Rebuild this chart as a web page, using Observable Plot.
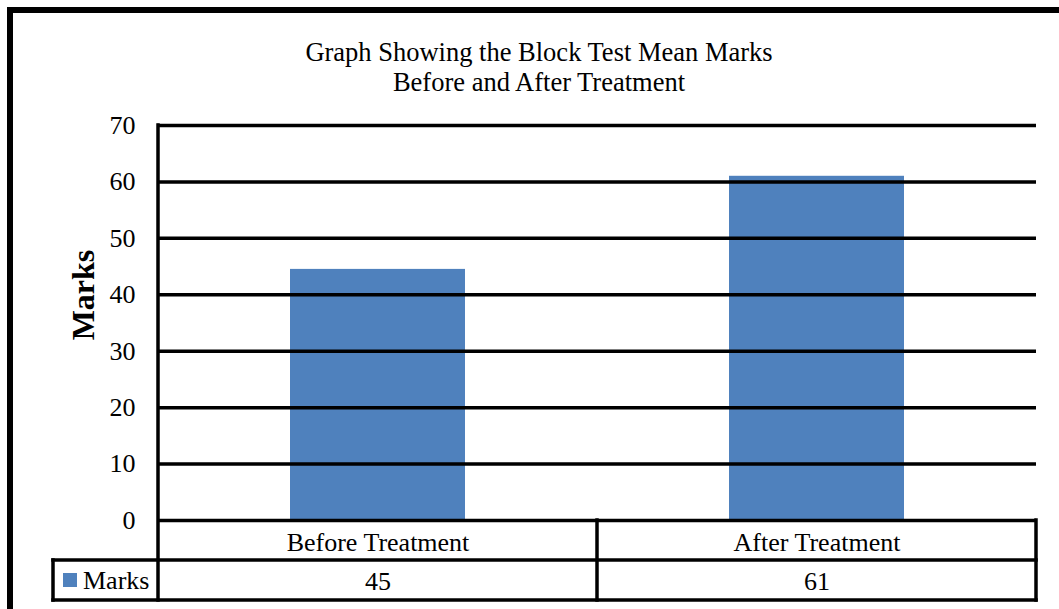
<!DOCTYPE html>
<html>
<head>
<meta charset="utf-8">
<script src="https://cdn.jsdelivr.net/npm/d3@7"></script>
<script src="https://cdn.jsdelivr.net/npm/@observablehq/plot@0.6"></script>
<style>
  html, body { margin: 0; padding: 0; background: #fff; overflow: hidden; width: 1059px; height: 609px; }
  #wrap { position: relative; width: 1059px; height: 609px; font-family: "Liberation Serif", "Times New Roman", serif; }
  #border { position: absolute; left: 7px; top: 7px; width: 1200px; height: 800px; border: 6px solid #000; box-sizing: border-box; }
  #title { position: absolute; left: 239px; width: 600px; top: 37px; text-align: center; font-size: 26.5px; line-height: 30px; color: #000; }
  #chart { position: absolute; left: 0; top: 0; }
</style>
</head>
<body>
<div id="wrap">
  <div id="border"></div>
  <div id="title">Graph Showing the Block Test Mean Marks<br>Before and After Treatment</div>
  <div id="chart"></div>
</div>
<script>
const categories = ["Before Treatment", "After Treatment"];
const marks = [44.5, 61];
const tableLabels = ["45", "61"];
const yTicks = [0, 10, 20, 30, 40, 50, 60, 70];
const seriesName = "Marks";
const yLabel = "Marks";
const barColor = "#4F81BD";

const data = categories.map((c, i) => ({cat: c, value: marks[i], label: tableLabels[i]}));

const plot = Plot.plot({
  width: 1059,
  height: 609,
  marginLeft: 157,
  marginRight: 23,
  marginTop: 125,
  marginBottom: 89,
  style: {fontFamily: "Liberation Serif, Times New Roman, serif", background: "transparent", color: "#000"},
  x: {type: "band", domain: categories, padding: 0, axis: null},
  y: {domain: [0, 70], ticks: yTicks},
  marks: [
    Plot.barY(data, {x: "cat", y: "value", fill: barColor, insetLeft: 132, insetRight: 132}),
    Plot.ruleY(yTicks, {stroke: "#000", strokeWidth: 3.5}),
    Plot.axisY({ticks: yTicks, tickSize: 0, tickPadding: 22, fontSize: 26, label: null}),
    Plot.text([yLabel], {frameAnchor: "left", textAnchor: "middle", lineAnchor: "middle", text: d => d, rotate: -90, dx: -74, dy: -28, fontSize: 32, fontWeight: "bold", fill: "#000"}),
    Plot.text(data, {x: "cat", y: () => 0, text: "cat", dy: 22, fontSize: 26, fill: "#000"}),
    Plot.text(data, {x: "cat", y: () => 0, text: "label", dy: 61, fontSize: 26, fill: "#000"})
  ]
});

document.getElementById("chart").appendChild(plot);

// Data table grid drawn from the plot's own scales
const xs = plot.scale("x");
const ys = plot.scale("y");
const bw = xs.bandwidth;
const left = xs.apply(categories[0]);
const right = xs.apply(categories[categories.length - 1]) + bw;
const y0 = ys.apply(0);
const yTop = ys.apply(70);
const rowH = 40;
const legendLeft = 53;
const svg = d3.select(plot);
const g = svg.append("g").attr("stroke", "#000").attr("stroke-width", 3.5).attr("stroke-linecap", "square");
g.append("line").attr("x1", left).attr("x2", left).attr("y1", yTop).attr("y2", y0 + 2 * rowH);
categories.forEach((c) => {
  const xr = xs.apply(c) + bw;
  g.append("line").attr("x1", xr).attr("x2", xr).attr("y1", y0).attr("y2", y0 + 2 * rowH);
});
g.append("line").attr("x1", legendLeft).attr("x2", right).attr("y1", y0 + rowH).attr("y2", y0 + rowH);
g.append("line").attr("x1", legendLeft).attr("x2", right).attr("y1", y0 + 2 * rowH).attr("y2", y0 + 2 * rowH);
g.append("line").attr("x1", legendLeft).attr("x2", legendLeft).attr("y1", y0 + rowH).attr("y2", y0 + 2 * rowH);
svg.append("rect").attr("x", legendLeft + 10).attr("y", y0 + rowH + 13).attr("width", 14).attr("height", 14).attr("fill", barColor);
svg.append("text").attr("x", legendLeft + 30).attr("y", y0 + rowH + 20).attr("dy", "0.35em")
  .attr("text-anchor", "start")
  .attr("font-size", 26).attr("fill", "#000").attr("font-family", "Liberation Serif, Times New Roman, serif").text(seriesName);
</script>
</body>
</html>
